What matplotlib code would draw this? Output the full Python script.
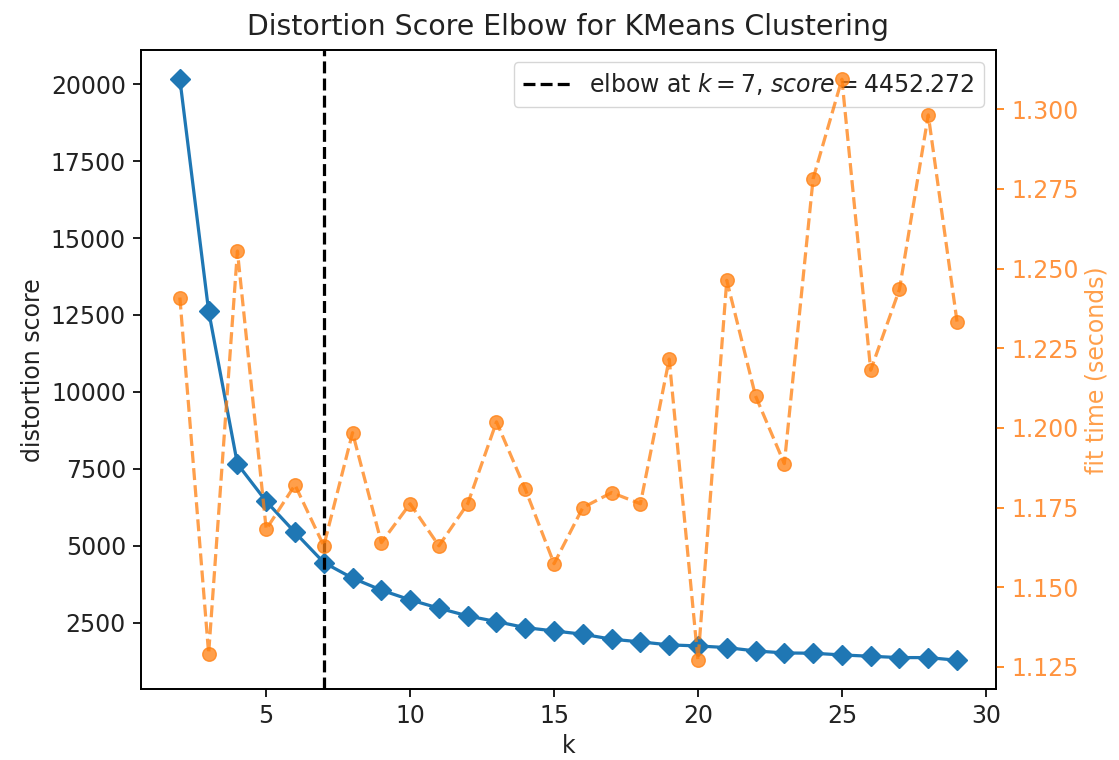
import numpy as np
import matplotlib
matplotlib.use("Agg")
import matplotlib.pyplot as plt

# k values tried by the elbow search
k_values = list(range(2, 30))

# distortion score per k
distortion = [20163, 12627, 7658, 6440, 5431, 4452.272, 3945, 3555, 3239, 2968,
              2717, 2532, 2337, 2228, 2122, 1960, 1873, 1775, 1741, 1687,
              1578, 1513, 1504, 1448, 1405, 1362, 1362, 1275]

# fit time in seconds per k
fit_time = [1.2409, 1.1292, 1.2555, 1.1682, 1.1821, 1.1630, 1.1985, 1.1640,
            1.1762, 1.1630, 1.1762, 1.2019, 1.1808, 1.1574, 1.1750, 1.1797,
            1.1762, 1.2216, 1.1271, 1.2463, 1.2100, 1.1888, 1.2782, 1.3094,
            1.2181, 1.2435, 1.2982, 1.2333]

elbow_k = 7
elbow_score = 4452.272

s = 1.55
plt.rcParams['font.size'] = 17
plt.rcParams['lines.linewidth'] = 1.5 * s
plt.rcParams['lines.markersize'] = 6.3 * s
plt.rcParams['axes.linewidth'] = 0.8 * s
plt.rcParams['xtick.major.width'] = 0.8 * s
plt.rcParams['ytick.major.width'] = 0.8 * s
plt.rcParams['xtick.major.size'] = 3.5 * s
plt.rcParams['ytick.major.size'] = 3.5 * s
plt.rcParams['xtick.major.pad'] = 3.5 * s
plt.rcParams['ytick.major.pad'] = 3.5 * s
plt.rcParams['text.color'] = '#222222'
plt.rcParams['xtick.labelcolor'] = '#222222'
plt.rcParams['ytick.labelcolor'] = '#222222'
plt.rcParams['axes.labelcolor'] = '#222222'

fig, ax = plt.subplots(figsize=(11.19, 7.6), dpi=100)
fig.subplots_adjust(left=0.126, right=0.890, bottom=0.093, top=0.934)

ax.plot(k_values, distortion, marker="D", color="C0")
ax.axvline(elbow_k, c="k", linestyle="--",
           label="elbow at $k={}$, $score={:0.3f}$".format(elbow_k, elbow_score))
ax.set_title("Distortion Score Elbow for KMeans Clustering", pad=11)
ax.set_xlabel("k")
ax.set_ylabel("distortion score")
ax.legend(loc="best", frameon=True)

ax2 = ax.twinx()
ax2.plot(k_values, fit_time, label="fit time", c="C1", marker="o",
         linestyle="--", alpha=0.75)
ax2.set_ylabel("fit time (seconds)", color="C1", alpha=0.75)
ax2.tick_params("y", colors="C1", labelcolor="#ff9440")

fig.savefig("out.png", dpi=100)
